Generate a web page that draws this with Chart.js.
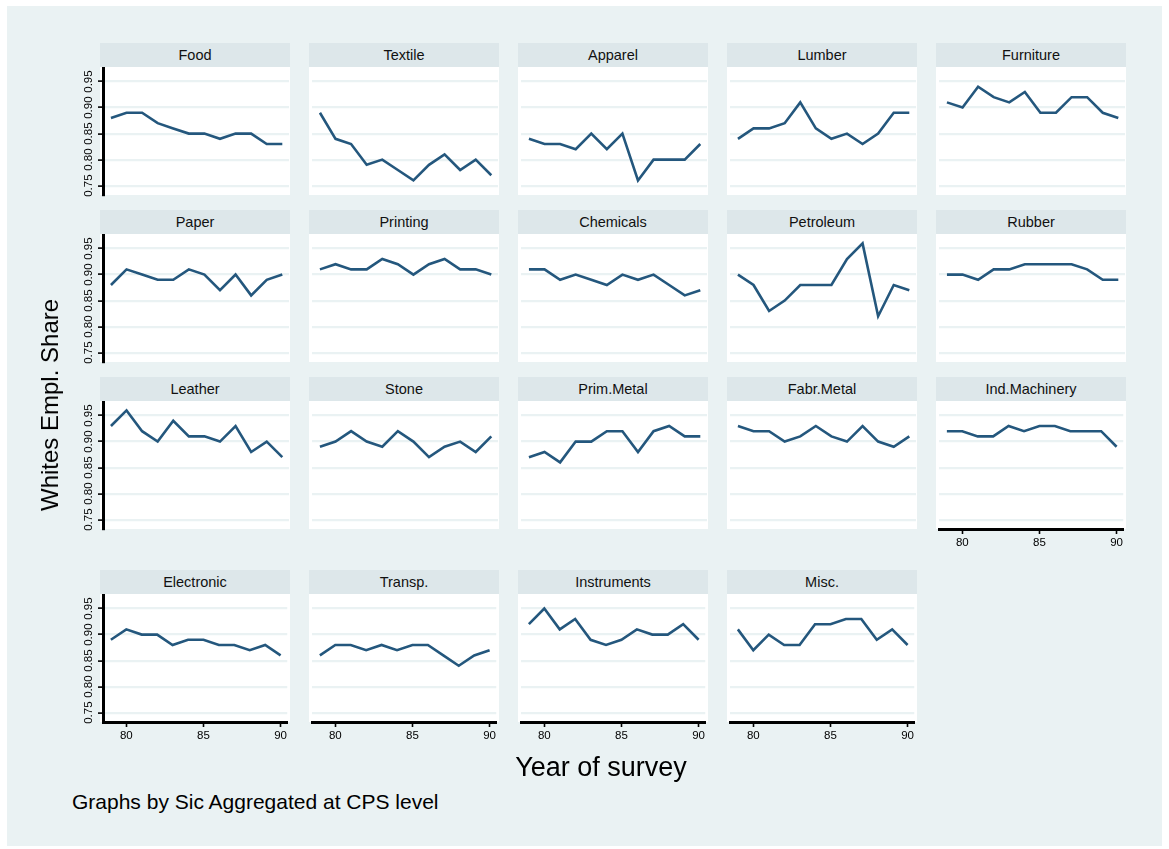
<!DOCTYPE html>
<html>

<head>
    <title>Whites Empl. Share by industry</title>
    <script src="https://cdn.jsdelivr.net/npm/chart.js"></script>
    <style>
        body { margin: 0; background: #fff; font-family: "Liberation Sans", Arial, Helvetica, sans-serif; }
        #frame { position: absolute; left: 7px; top: 6px; width: 1155px; height: 840px; background: #eaf2f3; }
        .strip { position: absolute; width: 190px; height: 24px; background: #dde7ea; color: #111;
                 font-size: 14.5px; line-height: 24px; text-align: center; }
        .plotbg { position: absolute; width: 190px; height: 128px; background: #fff; }
        canvas { position: absolute; }
        .lbl { position: absolute; color: #000; white-space: nowrap; }
    </style>
</head>

<body>
    <div id="frame"></div>
    <div id="panels"></div>
    <div class="lbl" id="ytitle" style="font-size:24px; left:50px; top:405px; transform: translate(-50%, -50%) rotate(-90deg);">Whites Empl. Share</div>
    <div class="lbl" style="font-size:27px; left:601px; top:752px; transform: translateX(-50%);">Year of survey</div>
    <div class="lbl" style="font-size:21px; left:72px; top:790px;">Graphs by Sic Aggregated at CPS level</div>

    <script>
        // survey years and the y axis ticks
        const years = [79, 80, 81, 82, 83, 84, 85, 86, 87, 88, 89, 90];
        const yTicks = [0.75, 0.80, 0.85, 0.90, 0.95];
        const xTicks = [80, 85, 90];

        const panelNames = ['Food', 'Textile', 'Apparel', 'Lumber', 'Furniture',
            'Paper', 'Printing', 'Chemicals', 'Petroleum', 'Rubber',
            'Leather', 'Stone', 'Prim.Metal', 'Fabr.Metal', 'Ind.Machinery',
            'Electronic', 'Transp.', 'Instruments', 'Misc.'];

        // whites share of employment, one array per industry
        const food = [0.88, 0.89, 0.89, 0.87, 0.86, 0.85, 0.85, 0.84, 0.85, 0.85, 0.83, 0.83];
        const textile = [0.89, 0.84, 0.83, 0.79, 0.80, 0.78, 0.76, 0.79, 0.81, 0.78, 0.80, 0.77];
        const apparel = [0.84, 0.83, 0.83, 0.82, 0.85, 0.82, 0.85, 0.76, 0.80, 0.80, 0.80, 0.83];
        const lumber = [0.84, 0.86, 0.86, 0.87, 0.91, 0.86, 0.84, 0.85, 0.83, 0.85, 0.89, 0.89];
        const furniture = [0.91, 0.90, 0.94, 0.92, 0.91, 0.93, 0.89, 0.89, 0.92, 0.92, 0.89, 0.88];
        const paper = [0.88, 0.91, 0.90, 0.89, 0.89, 0.91, 0.90, 0.87, 0.90, 0.86, 0.89, 0.90];
        const printing = [0.91, 0.92, 0.91, 0.91, 0.93, 0.92, 0.90, 0.92, 0.93, 0.91, 0.91, 0.90];
        const chemicals = [0.91, 0.91, 0.89, 0.90, 0.89, 0.88, 0.90, 0.89, 0.90, 0.88, 0.86, 0.87];
        const petroleum = [0.90, 0.88, 0.83, 0.85, 0.88, 0.88, 0.88, 0.93, 0.96, 0.82, 0.88, 0.87];
        const rubber = [0.90, 0.90, 0.89, 0.91, 0.91, 0.92, 0.92, 0.92, 0.92, 0.91, 0.89, 0.89];
        const leather = [0.93, 0.96, 0.92, 0.90, 0.94, 0.91, 0.91, 0.90, 0.93, 0.88, 0.90, 0.87];
        const stone = [0.89, 0.90, 0.92, 0.90, 0.89, 0.92, 0.90, 0.87, 0.89, 0.90, 0.88, 0.91];
        const primMetal = [0.87, 0.88, 0.86, 0.90, 0.90, 0.92, 0.92, 0.88, 0.92, 0.93, 0.91, 0.91];
        const fabrMetal = [0.93, 0.92, 0.92, 0.90, 0.91, 0.93, 0.91, 0.90, 0.93, 0.90, 0.89, 0.91];
        const indMachinery = [0.92, 0.92, 0.91, 0.91, 0.93, 0.92, 0.93, 0.93, 0.92, 0.92, 0.92, 0.89];
        const electronic = [0.89, 0.91, 0.90, 0.90, 0.88, 0.89, 0.89, 0.88, 0.88, 0.87, 0.88, 0.86];
        const transp = [0.86, 0.88, 0.88, 0.87, 0.88, 0.87, 0.88, 0.88, 0.86, 0.84, 0.86, 0.87];
        const instruments = [0.92, 0.95, 0.91, 0.93, 0.89, 0.88, 0.89, 0.91, 0.90, 0.90, 0.92, 0.89];
        const misc = [0.91, 0.87, 0.90, 0.88, 0.88, 0.92, 0.92, 0.93, 0.93, 0.89, 0.91, 0.88];

        const series = [food, textile, apparel, lumber, furniture,
            paper, printing, chemicals, petroleum, rubber,
            leather, stone, primMetal, fabrMetal, indMachinery,
            electronic, transp, instruments, misc];

        // layout of the grid of panels
        const colX = [100, 309, 518, 727, 936];
        const rowTop = [43, 210, 377, 570];
        const stripH = 24, plotH = 128, leftRoom = 40, bottomRoom = 30;
        const lineColor = '#24577d';
        const fontFam = '"Liberation Sans", Arial, Helvetica, sans-serif';

        // rotated y tick labels, placed with the y scale
        const yLabels = {
            id: 'yLabels',
            afterDraw(chart, args, opts) {
                if (!opts.show) return;
                const sc = chart.scales.y;
                const ctx = chart.ctx;
                ctx.save();
                ctx.fillStyle = '#000';
                ctx.font = '11.5px ' + fontFam;
                ctx.textAlign = 'center';
                ctx.textBaseline = 'middle';
                yTicks.forEach(v => {
                    const y = sc.getPixelForValue(v);
                    ctx.save();
                    ctx.translate(chart.chartArea.left - 14.5, y);
                    ctx.rotate(-Math.PI / 2);
                    ctx.fillText(v.toFixed(2), 0, 0);
                    ctx.restore();
                });
                ctx.restore();
            }
        };

        const holder = document.getElementById('panels');

        series.forEach((vals, i) => {
            const r = Math.floor(i / 5), c = i % 5;
            const x0 = colX[c];
            const top = rowTop[r] + stripH;
            const showY = c === 0;
            const showX = r === 3 || i === 14;

            const strip = document.createElement('div');
            strip.className = 'strip';
            strip.style.left = x0 + 'px';
            strip.style.top = rowTop[r] + 'px';
            strip.textContent = panelNames[i];
            holder.appendChild(strip);

            const bg = document.createElement('div');
            bg.className = 'plotbg';
            bg.style.left = x0 + 'px';
            bg.style.top = top + 'px';
            holder.appendChild(bg);

            const cv = document.createElement('canvas');
            cv.width = leftRoom + 189;
            cv.height = plotH + bottomRoom;
            cv.style.left = (x0 - leftRoom) + 'px';
            cv.style.top = top + 'px';
            holder.appendChild(cv);

            new Chart(cv, {
                type: 'line',
                data: {
                    datasets: [{
                        data: years.map((yr, k) => ({ x: yr, y: vals[k] })),
                        borderColor: lineColor,
                        borderWidth: 2.6,
                        pointRadius: 0,
                        tension: 0
                    }]
                },
                options: {
                    responsive: false,
                    devicePixelRatio: 1,
                    animation: false,
                    layout: { padding: 0 },
                    plugins: {
                        legend: { display: false },
                        tooltip: { enabled: false },
                        yLabels: { show: showY }
                    },
                    scales: {
                        x: {
                            type: 'linear',
                            min: 78.49,
                            max: 90.43,
                            afterBuildTicks: s => { s.ticks = xTicks.map(v => ({ value: v })); },
                            afterFit: s => { s.height = bottomRoom; },
                            grid: {
                                display: showX,
                                drawOnChartArea: false,
                                tickColor: '#000',
                                tickLength: 5,
                                tickWidth: 1.6
                            },
                            border: { display: showX, color: '#000', width: 3 },
                            ticks: {
                                display: showX,
                                color: '#000',
                                padding: 2,
                                maxRotation: 0,
                                autoSkip: false,
                                font: { size: 11.5, family: fontFam }
                            }
                        },
                        y: {
                            min: 0.732,
                            max: 0.978,
                            afterBuildTicks: s => { s.ticks = yTicks.map(v => ({ value: v })); },
                            afterFit: s => { s.width = leftRoom + 3; },
                            grid: {
                                color: '#eaf2f3',
                                lineWidth: 2.2,
                                drawTicks: showY,
                                tickColor: '#000',
                                tickLength: 5,
                                tickWidth: 1.6
                            },
                            border: { display: showY, color: '#000', width: 3 },
                            ticks: { display: false }
                        }
                    }
                },
                plugins: [yLabels]
            });
        });
    </script>

</body>

</html>
